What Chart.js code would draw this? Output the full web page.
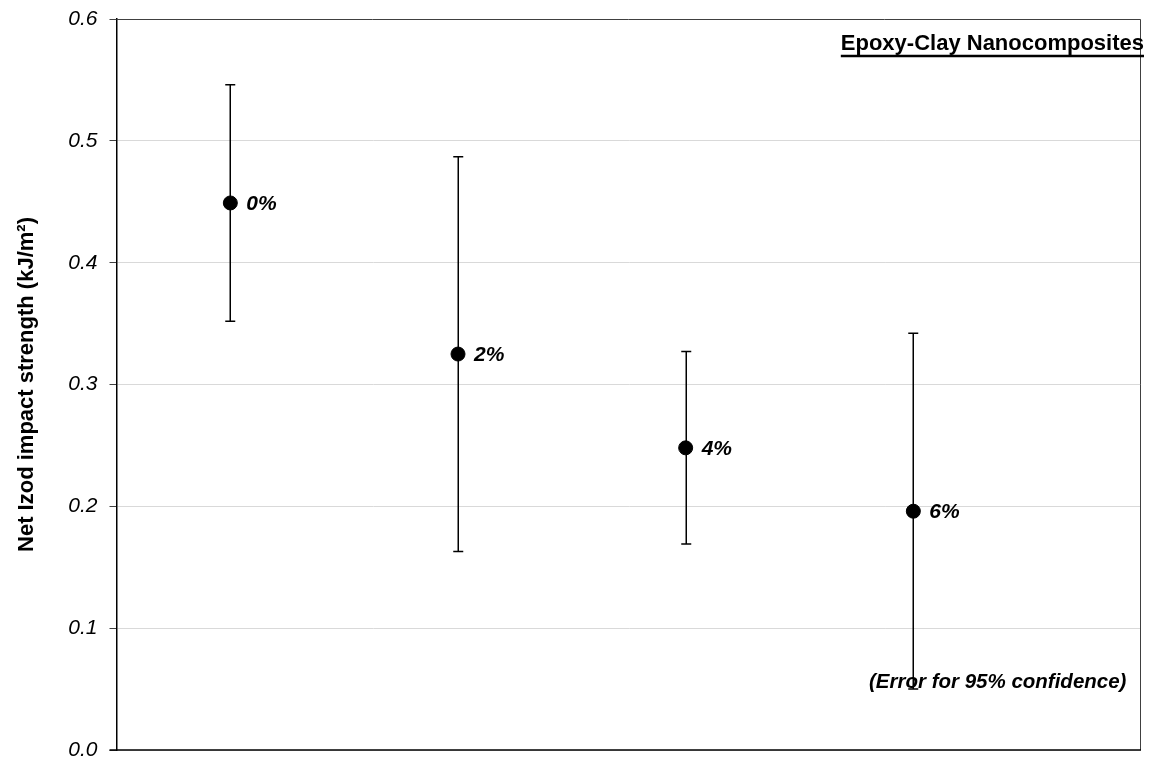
<!DOCTYPE html>
<html>
<head>
<meta charset="utf-8">
<script src="https://cdn.jsdelivr.net/npm/chart.js@4/dist/chart.umd.min.js"></script>
<style>
  html, body { margin: 0; padding: 0; background: #ffffff; }
  #wrap { width: 1149px; height: 761px; position: relative; }
</style>
</head>
<body>
<div id="wrap"><canvas id="c"></canvas></div>
<script>
// ---- data ----
const categories = ['0%', '2%', '4%', '6%'];
const xPositions = [1, 2, 3, 4];
const strength = [0.449, 0.325, 0.248, 0.196];
const error95 = [0.097, 0.162, 0.079, 0.146];
const yTicks = [0.0, 0.1, 0.2, 0.3, 0.4, 0.5, 0.6];
const yTitle = 'Net Izod impact strength (kJ/m\u00B2)';
const chartTitle = 'Epoxy-Clay Nanocomposites';
const noteText = '(Error for 95% confidence)';

const FONT = "'Liberation Sans', Arial, Helvetica, sans-serif";

const points = xPositions.map((x, i) => ({ x: x, y: strength[i] }));

const overlay = {
  id: 'overlay',
  beforeDatasetsDraw(chart) {
    const ctx = chart.ctx;
    const xs = chart.scales.x, ys = chart.scales.y;
    ctx.save();
    ctx.strokeStyle = '#000';
    ctx.lineWidth = 1.5;
    for (let i = 0; i < strength.length; i++) {
      const px = Math.round(xs.getPixelForValue(xPositions[i])) + 0.25;
      const top = ys.getPixelForValue(strength[i] + error95[i]);
      const bot = ys.getPixelForValue(strength[i] - error95[i]);
      ctx.beginPath();
      ctx.moveTo(px, top); ctx.lineTo(px, bot);
      ctx.moveTo(px - 5, top); ctx.lineTo(px + 5, top);
      ctx.moveTo(px - 5, bot); ctx.lineTo(px + 5, bot);
      ctx.stroke();
    }
    ctx.restore();
  },
  afterDatasetsDraw(chart) {
    const ctx = chart.ctx;
    const a = chart.chartArea;
    const xs = chart.scales.x, ys = chart.scales.y;
    ctx.save();
    // plot border (top & right)
    ctx.strokeStyle = '#404040';
    ctx.lineWidth = 1;
    ctx.beginPath();
    ctx.moveTo(a.left, a.top + 0.5);
    ctx.lineTo(a.right - 0.5, a.top + 0.5);
    ctx.lineTo(a.right - 0.5, a.bottom);
    ctx.stroke();
    // bottom axis line
    ctx.strokeStyle = '#000';
    ctx.lineWidth = 1.5;
    ctx.beginPath();
    ctx.moveTo(a.left - 7, a.bottom);
    ctx.lineTo(a.right, a.bottom);
    ctx.stroke();

    // point labels
    ctx.fillStyle = '#000';
    ctx.font = 'italic bold 21px ' + FONT;
    ctx.textAlign = 'left';
    ctx.textBaseline = 'middle';
    for (let i = 0; i < categories.length; i++) {
      const px = xs.getPixelForValue(xPositions[i]);
      const py = ys.getPixelForValue(strength[i]);
      ctx.fillText(categories[i], px + 16, py + 1);
    }

    // title, underlined, right aligned
    ctx.font = 'bold 22px ' + FONT;
    ctx.textAlign = 'right';
    ctx.textBaseline = 'alphabetic';
    const tx = a.right + 3, ty = a.top + 31;
    ctx.fillText(chartTitle, tx, ty);
    const w = ctx.measureText(chartTitle).width;
    ctx.lineWidth = 2.5;
    ctx.beginPath();
    ctx.moveTo(tx - w, ty + 6);
    ctx.lineTo(tx, ty + 6);
    ctx.stroke();

    // note
    ctx.font = 'italic bold 20.5px ' + FONT;
    ctx.textAlign = 'left';
    ctx.fillText(noteText, 869, a.bottom - 62);
    ctx.restore();
  }
};

new Chart(document.getElementById('c'), {
  type: 'scatter',
  data: {
    datasets: [{
      data: points,
      backgroundColor: '#000',
      borderColor: '#000',
      pointRadius: 7,
      pointHoverRadius: 7,
      showLine: false
    }]
  },
  options: {
    responsive: true,
    maintainAspectRatio: false,
    devicePixelRatio: 1,
    animation: false,
    events: [],
    layout: { padding: { left: 0, top: 19, right: 7, bottom: 11 } },
    plugins: { legend: { display: false }, tooltip: { enabled: false } },
    scales: {
      x: {
        type: 'linear',
        min: 0.5,
        max: 5,
        display: false,
        afterFit(scale) { scale.height = 0; scale.paddingLeft = 0; scale.paddingRight = 0; scale.paddingTop = 0; scale.paddingBottom = 0; }
      },
      y: {
        type: 'linear',
        min: 0,
        max: 0.6,
        afterFit(scale) { scale.width = 116.5; scale.paddingTop = 0; scale.paddingBottom = 0; },
        afterBuildTicks(scale) { scale.ticks = yTicks.map(v => ({ value: v })); },
        ticks: {
          color: '#000',
          padding: 12,
          font: { family: FONT, size: 21, style: 'italic' },
          callback: (v) => Number(v).toFixed(1)
        },
        grid: {
          color: '#d9d9d9',
          lineWidth: 1,
          drawTicks: true,
          tickLength: 7,
          tickColor: '#404040'
        },
        border: { display: true, color: '#000', width: 1.5 },
        title: {
          display: true,
          text: yTitle,
          color: '#000',
          font: { family: FONT, size: 22, weight: 'bold' },
          padding: { top: 14, bottom: 0 }
        }
      }
    }
  },
  plugins: [overlay]
});
</script>
</body>
</html>
